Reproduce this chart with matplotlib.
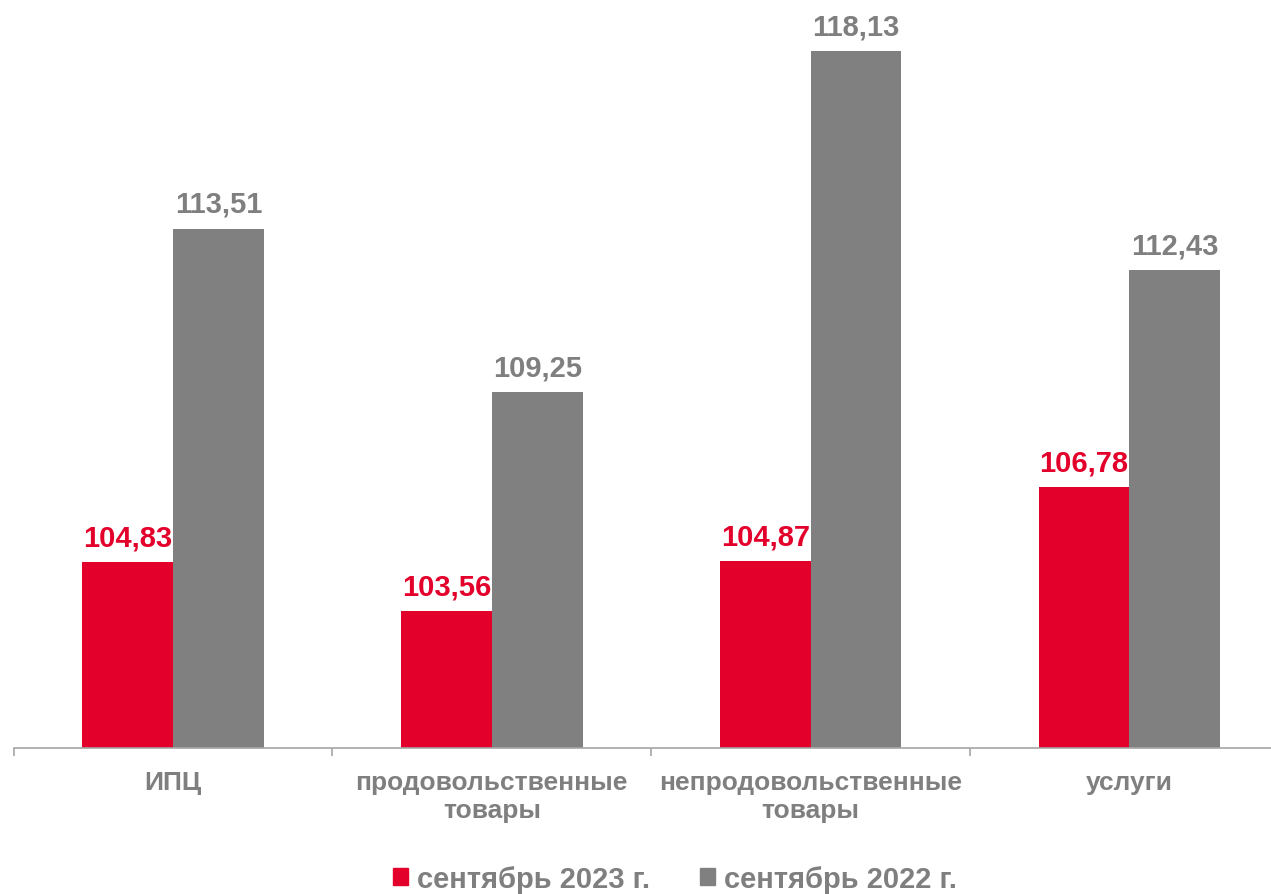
import numpy as np
import matplotlib.pyplot as plt
from matplotlib.patches import Patch

plt.rcParams['font.family'] = ['Liberation Sans', 'DejaVu Sans']

categories = ['ИПЦ', 'продовольственные\nтовары', 'непродовольственные\nтовары', 'услуги']
sep_2023 = [104.83, 103.56, 104.87, 106.78]
sep_2022 = [113.51, 109.25, 118.13, 112.43]
series_names = ['сентябрь 2023 г.', 'сентябрь 2022 г.']

red = '#E3002B'
grey = '#808080'
text_grey = '#7F7F7F'

fig = plt.figure(figsize=(12.71, 8.95), dpi=100)
ax = fig.add_axes([13.5 / 1271, 146 / 895, 1 - 13.5 / 1271, 749 / 895])

x = np.arange(len(categories))
w = 0.285
b1 = ax.bar(x - w / 2, np.array(sep_2023) - 100, w, bottom=100, color=red)
b2 = ax.bar(x + w / 2, np.array(sep_2022) - 100, w, bottom=100, color=grey)

for bars, vals, col in [(b1, sep_2023, red), (b2, sep_2022, text_grey)]:
    for r, v in zip(bars, vals):
        ax.annotate(f'{v:.2f}'.replace('.', ','),
                    (r.get_x() + r.get_width() / 2, v),
                    xytext=(0, 12), textcoords='offset points',
                    ha='center', va='baseline', fontsize=21,
                    fontweight='bold', color=col)

for s in ['top', 'right', 'left']:
    ax.spines[s].set_visible(False)
ax.spines['bottom'].set_color('#A6A6A6')
ax.spines['bottom'].set_linewidth(1.2)
ax.set_yticks([])

# ticks at category boundaries, labels at centres
ax.set_xticks(np.arange(-0.5, len(categories), 1.0))
ax.set_xticklabels([])
ax.tick_params(axis='x', which='major', length=5.5, width=1.2, color='#A6A6A6')
ax.set_xticks(x, minor=True)
ax.set_xticklabels(categories, minor=True, fontsize=19, fontweight='bold',
                   color=text_grey, linespacing=1.2, multialignment='center')
ax.tick_params(axis='x', which='minor', length=0, pad=16)

# limits last, set_xticks would widen them
ax.set_xlim(-0.5, 3.444)
ax.set_ylim(100, 119.48)

handles = [Patch(color=red), Patch(color=grey)]
fig.legend(handles, series_names, loc='center', bbox_to_anchor=(0.531, 0.017),
           ncol=2, frameon=False, handlelength=0.52, handleheight=0.52,
           handletextpad=0.3, columnspacing=1.7,
           prop={'size': 21, 'weight': 'bold'}, labelcolor=text_grey)

fig.savefig('out.png', dpi=100)
